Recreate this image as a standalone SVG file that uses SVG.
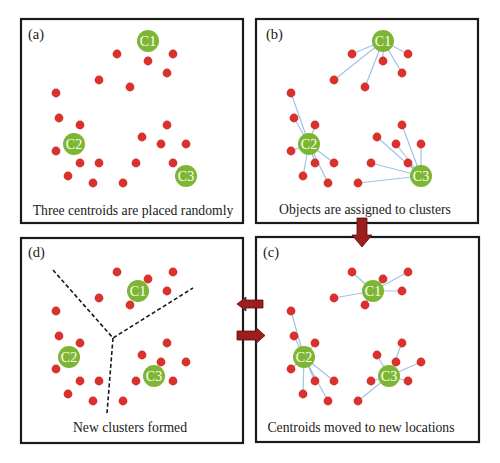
<svg xmlns="http://www.w3.org/2000/svg" width="500" height="463" viewBox="0 0 500 463">
<style>
.box{fill:#fff;stroke:#1a1a1a;stroke-width:2.2}
.dot{fill:#d9312c}
.cen{fill:#7db632}
text{font-family:'Liberation Serif','Times New Roman',Times,'DejaVu Serif',serif}
.ct{fill:#fff;font-size:14px;text-anchor:middle}
.lbl{fill:#1a1a1a;font-size:14.5px}
.cap{fill:#1a1a1a;font-size:13.7px;text-anchor:middle}
.ln{stroke:#9fc3e6;stroke-width:1.2;fill:none}
.dash{stroke:#1a1a1a;stroke-width:1.6;stroke-dasharray:4 2.5;fill:none}
.arr{fill:#9b1d1d;stroke:#5e0e0e;stroke-width:0.8}
</style>
<defs>
<g id="dots">
<circle class="dot" cx="117" cy="54" r="4.4"/><circle class="dot" cx="148" cy="61" r="4.4"/><circle class="dot" cx="173" cy="54" r="4.4"/><circle class="dot" cx="167" cy="73" r="4.4"/><circle class="dot" cx="99" cy="80" r="4.4"/><circle class="dot" cx="130" cy="87" r="4.4"/>
<circle class="dot" cx="56" cy="93" r="4.4"/><circle class="dot" cx="59" cy="118" r="4.4"/><circle class="dot" cx="80" cy="125" r="4.4"/><circle class="dot" cx="56" cy="151" r="4.4"/><circle class="dot" cx="80" cy="163" r="4.4"/><circle class="dot" cx="99" cy="163" r="4.4"/><circle class="dot" cx="68" cy="176" r="4.4"/><circle class="dot" cx="93" cy="183" r="4.4"/>
<circle class="dot" cx="167" cy="125" r="4.4"/><circle class="dot" cx="142" cy="137" r="4.4"/><circle class="dot" cx="161" cy="144" r="4.4"/><circle class="dot" cx="186" cy="144" r="4.4"/><circle class="dot" cx="136" cy="163" r="4.4"/><circle class="dot" cx="173" cy="163" r="4.4"/><circle class="dot" cx="123" cy="183" r="4.4"/>
</g>
</defs>

<g id="panel-a">
<rect class="box" x="21" y="19" width="222" height="204"/>
<text class="lbl" x="28" y="39">(a)</text>
<use href="#dots"/>
<circle class="cen" cx="148" cy="41" r="11"/><text class="ct" x="148" y="46">C1</text>
<circle class="cen" cx="74" cy="144" r="11"/><text class="ct" x="74" y="149">C2</text>
<circle class="cen" cx="186" cy="176" r="11"/><text class="ct" x="186" y="181">C3</text>
<text class="cap" x="133" y="215">Three centroids are placed randomly</text>
</g>

<g id="panel-b">
<rect class="box" x="256" y="19" width="222" height="204"/>
<text class="lbl" x="266" y="39">(b)</text>
<g transform="translate(235,0)">
<path class="ln" d="M148,41L117,54M148,41L148,61M148,41L173,54M148,41L167,73M148,41L99,80M148,41L130,87
M74,144L56,93M74,144L59,118M74,144L80,125M74,144L56,151M74,144L80,163M74,144L99,163M74,144L68,176M74,144L93,183
M186,176L167,125M186,176L142,137M186,176L161,144M186,176L186,144M186,176L136,163M186,176L173,163M186,176L123,183"/>
<use href="#dots"/>
<circle class="cen" cx="148" cy="41" r="11"/><text class="ct" x="148" y="46">C1</text>
<circle class="cen" cx="74" cy="144" r="11"/><text class="ct" x="74" y="149">C2</text>
<circle class="cen" cx="186" cy="176" r="11"/><text class="ct" x="186" y="181">C3</text>
</g>
<text class="cap" x="365" y="214">Objects are assigned to clusters</text>
</g>

<g id="panel-d">
<rect class="box" x="21" y="238" width="222" height="205"/>
<text class="lbl" x="28" y="257">(d)</text>
<path class="dash" d="M53,270L113,338L193,288M113,338L107,413"/>
<g transform="translate(0,218)">
<use href="#dots"/>
<circle class="cen" cx="138" cy="73" r="11"/><text class="ct" x="138" y="78">C1</text>
<circle class="cen" cx="69" cy="139" r="11"/><text class="ct" x="69" y="144">C2</text>
<circle class="cen" cx="154" cy="158" r="11"/><text class="ct" x="154" y="163">C3</text>
</g>
<text class="cap" x="130" y="432">New clusters formed</text>
</g>

<g id="panel-c">
<rect class="box" x="256" y="237" width="223" height="205"/>
<text class="lbl" x="263" y="257">(c)</text>
<g transform="translate(235,218)">
<path class="ln" d="M138,73L117,54M138,73L148,61M138,73L173,54M138,73L167,73M138,73L99,80M138,73L130,87
M69,139L56,93M69,139L59,118M69,139L80,125M69,139L56,151M69,139L80,163M69,139L99,163M69,139L68,176M69,139L93,183
M154,158L167,125M154,158L142,137M154,158L161,144M154,158L186,144M154,158L136,163M154,158L173,163M154,158L123,183"/>
<use href="#dots"/>
<circle class="cen" cx="138" cy="73" r="11"/><text class="ct" x="138" y="78">C1</text>
<circle class="cen" cx="69" cy="139" r="11"/><text class="ct" x="69" y="144">C2</text>
<circle class="cen" cx="154" cy="158" r="11"/><text class="ct" x="154" y="163">C3</text>
</g>
<text class="cap" x="361" y="432">Centroids moved to new locations</text>
</g>

<g id="connectors">
<polygon class="arr" points="357,218 367,218 367,235 372,235 362,247 352,235 357,235"/>
<polygon class="arr" points="263,300 246,300 246,297 237,304 246,311 246,308 263,308"/>
<polygon class="arr" points="237,331 256,331 256,327.5 265,335.5 256,343.5 256,340 237,340"/>
</g>
</svg>
